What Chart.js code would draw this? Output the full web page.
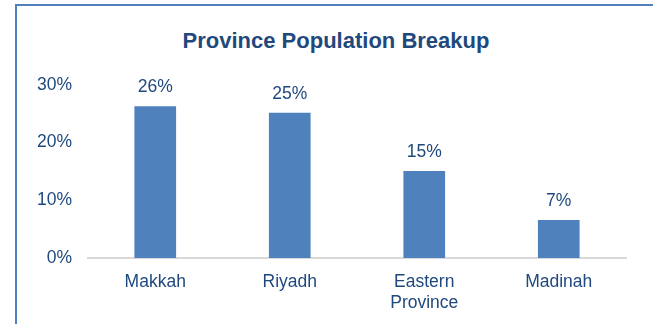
<!DOCTYPE html>
<html>
<head>
<meta charset="utf-8">
<script src="https://cdn.jsdelivr.net/npm/chart.js@4/dist/chart.umd.min.js"></script>
<style>
  html, body { margin: 0; padding: 0; background: #fff; overflow: hidden; }
  #wrap { position: relative; width: 653px; height: 324px; overflow: hidden; }
  #frame {
    position: absolute; left: 15px; top: 4px; width: 700px; height: 400px;
    border-left: 2px solid #4f81bd; border-top: 2px solid #4f81bd;
  }
  #title {
    position: absolute; left: 336px; top: 29px; transform: translateX(-50%);
    font: bold 22px 'Liberation Sans', Arial, sans-serif; line-height: 24px;
    color: #1f497d; white-space: nowrap;
  }
  #chartBox { position: absolute; left: 0; top: 0; width: 653px; height: 324px; }
</style>
</head>
<body>
<div id="wrap">
  <div id="frame"></div>
  <div id="title">Province Population Breakup</div>
  <div id="chartBox"><canvas id="popChart"></canvas></div>
</div>
<script>
// data
const provinces = ['Makkah', 'Riyadh', ['Eastern', 'Province'], 'Madinah']
const popShare = [0.263, 0.252, 0.151, 0.066]
const yTicks = [0, 0.1, 0.2, 0.3]

const textColor = '#1f497d'
const fontFamily = "'Liberation Sans', Arial, sans-serif"

const pct = v => Math.round(v * 100) + '%'

// value labels above bars
const barLabels = {
  id: 'barLabels',
  afterDatasetsDraw(chart) {
    const ctx = chart.ctx
    const meta = chart.getDatasetMeta(0)
    ctx.save()
    ctx.font = '17.5px ' + fontFamily
    ctx.fillStyle = textColor
    ctx.textAlign = 'center'
    ctx.textBaseline = 'alphabetic'
    meta.data.forEach((bar, i) => {
      ctx.fillText(pct(popShare[i]), bar.x, bar.y - 14)
    })
    ctx.restore()
  }
}

new Chart(document.getElementById('popChart'), {
  type: 'bar',
  data: {
    labels: provinces,
    datasets: [{
      data: popShare,
      backgroundColor: '#4f81bd',
      borderWidth: 0,
      barPercentage: 0.31,
      categoryPercentage: 1
    }]
  },
  options: {
    responsive: true,
    maintainAspectRatio: false,
    animation: false,
    layout: { padding: { left: 0, right: 27, top: 85, bottom: 0 } },
    plugins: {
      legend: { display: false },
      tooltip: { enabled: false },
      title: { display: false }
    },
    scales: {
      x: {
        grid: { display: false, drawTicks: false },
        border: { display: true, color: '#d9d9d9', width: 2 },
        ticks: {
          color: textColor,
          padding: 14,
          maxRotation: 0,
          font: { family: fontFamily, size: 17.5, lineHeight: 1.2 }
        },
        afterFit(scale) { scale.height = 66 }
      },
      y: {
        min: 0,
        max: 0.3,
        grid: { display: false, drawTicks: false },
        border: { display: false },
        afterBuildTicks(scale) { scale.ticks = yTicks.map(v => ({ value: v })) },
        ticks: {
          color: textColor,
          padding: 16,
          callback: v => pct(v),
          font: { family: fontFamily, size: 17.5 }
        },
        afterFit(scale) { scale.width = 88 }
      }
    }
  },
  plugins: [barLabels]
})
</script>
</body>
</html>
